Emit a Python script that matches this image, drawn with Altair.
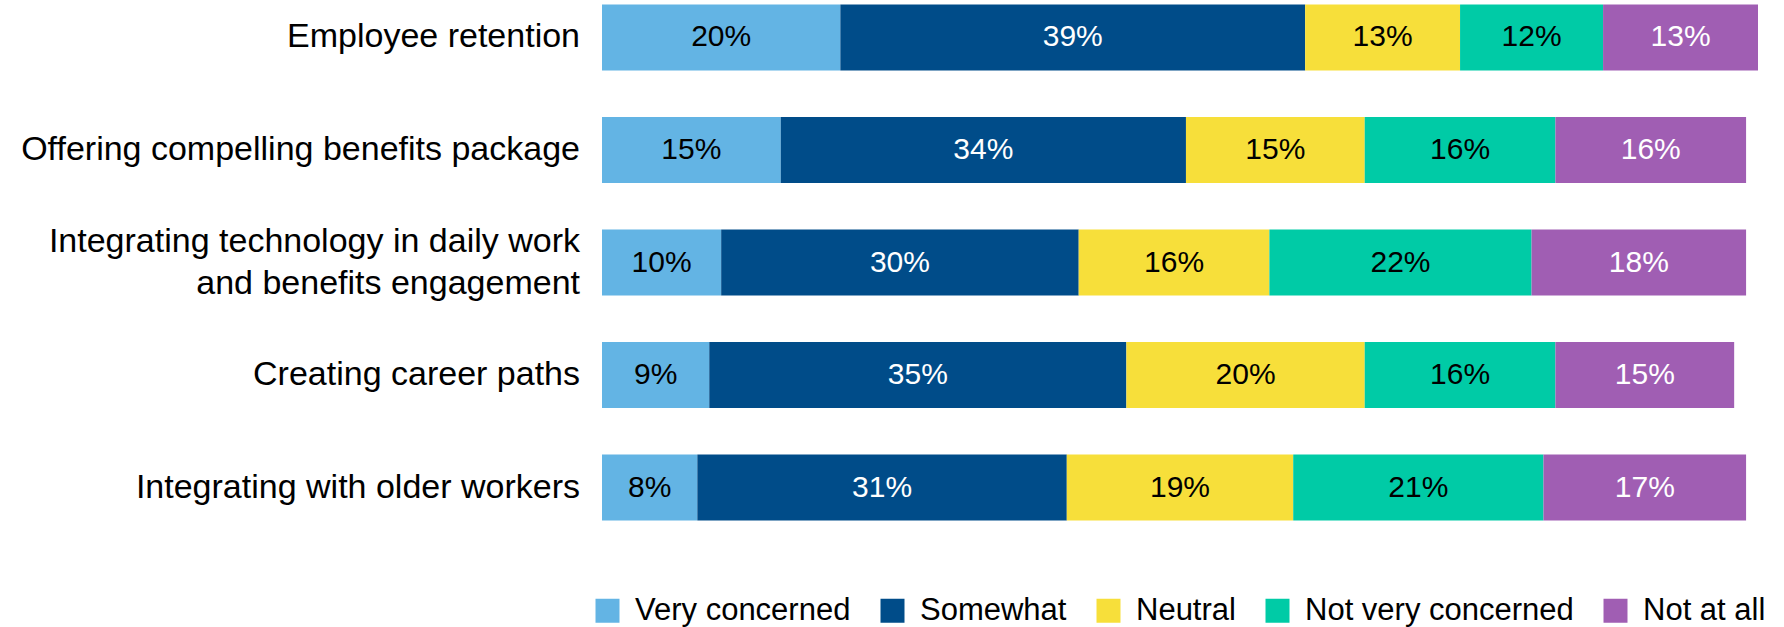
import altair as alt
import pandas as pd

categories = [
    "Employee retention",
    "Offering compelling benefits package",
    "Integrating technology in daily work and benefits engagement",
    "Creating career paths",
    "Integrating with older workers",
]
# axis label lines for each category (second list holds wrapped continuation)
label_line1 = [
    "Employee retention",
    "Offering compelling benefits package",
    "Integrating technology in daily work",
    "Creating career paths",
    "Integrating with older workers",
]
label_line2 = ["", "", "and benefits engagement", "", ""]

series = ["Very concerned", "Somewhat", "Neutral", "Not very concerned", "Not at all"]
colors = ["#63B4E4", "#004C89", "#F7DF3A", "#00CBA6", "#A05EB3"]
label_colors = ["black", "white", "black", "black", "white"]

very_concerned = [20, 15, 10, 9, 8]
somewhat = [39, 34, 30, 35, 31]
neutral = [13, 15, 16, 20, 19]
not_very_concerned = [12, 16, 22, 16, 21]
not_at_all = [13, 16, 18, 15, 17]

values_by_series = [very_concerned, somewhat, neutral, not_very_concerned, not_at_all]

rows = []
for si, (s, vals) in enumerate(zip(series, values_by_series)):
    for ci, c in enumerate(categories):
        rows.append({"category": c, "series": s, "order": si, "value": vals[ci],
                     "label": f"{vals[ci]}%", "tcolor": label_colors[si]})
df = pd.DataFrame(rows)

lab_rows = []
for c, l1, l2 in zip(categories, label_line1, label_line2):
    if l2:
        lab_rows.append({"category": c, "text": l1, "kind": "top"})
        lab_rows.append({"category": c, "text": l2, "kind": "bottom"})
    else:
        lab_rows.append({"category": c, "text": l1, "kind": "single"})
lab_df = pd.DataFrame(lab_rows)

FONT = "Liberation Sans, Arial, sans-serif"

base = alt.Chart(df).transform_stack(
    stack="value", groupby=["category"], as_=["x0", "x1"],
    sort=[alt.SortField("order", order="ascending")]
).transform_calculate(mid="(datum.x0 + datum.x1) / 2")

xscale = alt.Scale(domain=[0, 97], nice=False, zero=True)
yscale = alt.Scale(domain=categories, paddingInner=0.414, paddingOuter=0.04)

bars = base.mark_bar().encode(
    x=alt.X("x0:Q", scale=xscale, axis=None),
    x2="x1:Q",
    y=alt.Y("category:N", sort=categories, scale=yscale, axis=None),
    color=alt.Color("series:N", sort=series,
                    scale=alt.Scale(domain=series, range=colors),
                    legend=alt.Legend(title=None, orient="none", direction="horizontal",
                                      legendX=-10, legendY=595, columns=5,
                                      symbolType="square", symbolSize=576,
                                      symbolStrokeWidth=0, symbolOpacity=1,
                                      labelFontSize=31, labelFont=FONT, labelColor="black",
                                      labelOffset=12, columnPadding=26, labelLimit=500,
                                      padding=0)),
)

text = base.mark_text(fontSize=30, font=FONT, baseline="middle", align="center").encode(
    x=alt.X("mid:Q", scale=xscale, axis=None),
    y=alt.Y("category:N", sort=categories, scale=yscale, axis=None),
    text="label:N",
    color=alt.Color("tcolor:N", scale=None),
)


def label_layer(kind, dy):
    return alt.Chart(lab_df).transform_filter(
        alt.datum.kind == kind
    ).mark_text(
        fontSize=34, font=FONT, align="right", baseline="middle", color="black", dy=dy
    ).encode(
        x=alt.value(-22),
        y=alt.Y("category:N", sort=categories, scale=yscale, axis=None),
        text="text:N",
    )


lab_single = label_layer("single", 0)
lab_top = label_layer("top", -21)
lab_bottom = label_layer("bottom", 21)

chart = alt.layer(bars, text, lab_single, lab_top, lab_bottom).properties(
    width=1156, height=525,
    autosize=alt.AutoSizeParams(type="none"),
    padding={"left": 602, "top": 0, "right": 26, "bottom": 102},
).configure(background="white").configure_view(stroke=None)

chart.save("out.html", embed_options={"renderer": "svg", "actions": False})
